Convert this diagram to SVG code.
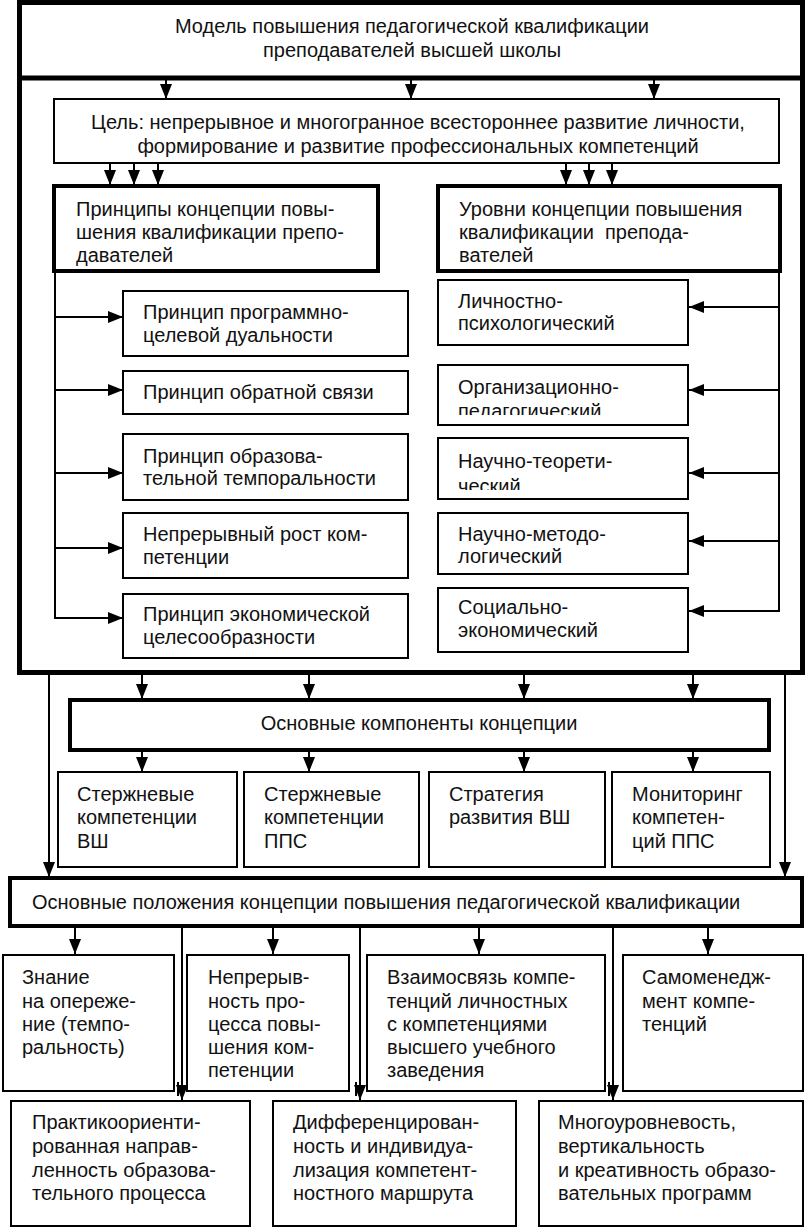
<svg xmlns="http://www.w3.org/2000/svg" width="809" height="1228" viewBox="0 0 809 1228">
<style>
.bx{fill:#fff;stroke:#000;stroke-width:2}
.bk{fill:#fff;stroke:#000;stroke-width:4}
.ln{fill:none;stroke:#000;stroke-width:2}
.ar{fill:none;stroke:#000;stroke-width:2;marker-end:url(#ah)}
text{font-family:"Liberation Sans",Arial,sans-serif;font-size:20px;fill:#111}
.c{text-anchor:middle}
</style>
<defs>
<marker id="ah" markerUnits="userSpaceOnUse" markerWidth="15" markerHeight="12" refX="15" refY="6" orient="auto">
<path d="M0,0 L15,6 L0,12 z" fill="#000"/>
</marker>
<clipPath id="cl1"><rect x="438" y="365" width="250" height="50"/></clipPath>
<clipPath id="cl2"><rect x="438" y="438" width="250" height="52"/></clipPath>
</defs>
<rect x="0" y="0" width="809" height="1228" fill="#fff"/>

<g id="frame">
<rect x="19.5" y="2.5" width="783" height="670" fill="none" stroke="#000" stroke-width="5"/>
<line x1="19" y1="78" x2="803" y2="78" stroke="#000" stroke-width="5"/>
</g>

<g id="connectors">
<line class="ar" x1="166" y1="80" x2="166" y2="99"/>
<line class="ar" x1="411" y1="80" x2="411" y2="99"/>
<line class="ar" x1="654" y1="80" x2="654" y2="99"/>
<line class="ar" x1="110" y1="163" x2="110" y2="185"/>
<line class="ar" x1="134" y1="163" x2="134" y2="185"/>
<line class="ar" x1="158" y1="163" x2="158" y2="185"/>
<line class="ar" x1="566" y1="163" x2="566" y2="185"/>
<line class="ar" x1="589" y1="163" x2="589" y2="185"/>
<line class="ar" x1="612" y1="163" x2="612" y2="185"/>
<line class="ln" x1="55" y1="271" x2="55" y2="619"/>
<line class="ar" x1="55" y1="317" x2="123" y2="317"/>
<line class="ar" x1="55" y1="390" x2="123" y2="390"/>
<line class="ar" x1="55" y1="473" x2="123" y2="473"/>
<line class="ar" x1="55" y1="548" x2="123" y2="548"/>
<line class="ar" x1="54" y1="618" x2="123" y2="618"/>
<line class="ln" x1="779" y1="271" x2="779" y2="612"/>
<line class="ar" x1="779" y1="307" x2="689" y2="307"/>
<line class="ar" x1="779" y1="390" x2="689" y2="390"/>
<line class="ar" x1="779" y1="473" x2="689" y2="473"/>
<line class="ar" x1="779" y1="541" x2="689" y2="541"/>
<line class="ar" x1="780" y1="611" x2="689" y2="611"/>
<line class="ar" x1="142" y1="675" x2="142" y2="699"/>
<line class="ar" x1="309" y1="675" x2="309" y2="699"/>
<line class="ar" x1="524" y1="675" x2="524" y2="699"/>
<line class="ar" x1="693" y1="675" x2="693" y2="699"/>
<line class="ar" x1="142" y1="751" x2="142" y2="772"/>
<line class="ar" x1="309" y1="751" x2="309" y2="772"/>
<line class="ar" x1="524" y1="751" x2="524" y2="772"/>
<line class="ar" x1="693" y1="751" x2="693" y2="772"/>
<line class="ar" x1="49" y1="675" x2="49" y2="877"/>
<line class="ar" x1="785" y1="675" x2="785" y2="877"/>
<line class="ar" x1="75" y1="928" x2="75" y2="954"/>
<line class="ar" x1="273" y1="928" x2="273" y2="954"/>
<line class="ar" x1="479" y1="928" x2="479" y2="954"/>
<line class="ar" x1="708" y1="928" x2="708" y2="954"/>
<line class="ar" x1="182" y1="928" x2="182" y2="1100"/>
<line class="ar" x1="360" y1="928" x2="360" y2="1100"/>
<line class="ar" x1="613" y1="928" x2="613" y2="1100"/>
<line class="ln" x1="178" y1="1082" x2="178" y2="1096"/>
<line class="ln" x1="356" y1="1082" x2="356" y2="1096"/>
<line class="ln" x1="609" y1="1082" x2="609" y2="1096"/>
</g>

<g id="title">
<text class="c" x="412" y="33">Модель повышения педагогической квалификации</text>
<text class="c" x="412" y="57">преподавателей высшей школы</text>
</g>

<g id="goal">
<rect class="bx" x="54" y="99" width="725" height="64"/>
<text class="c" x="418" y="129">Цель: непрерывное и многогранное всестороннее развитие личности,</text>
<text class="c" x="418" y="153">формирование и развитие профессиональных компетенций</text>
</g>

<g id="principles">
<rect class="bk" x="54" y="186" width="324" height="85"/>
<text x="76" y="216">Принципы концепции повы-</text>
<text x="76" y="239">шения квалификации препо-</text>
<text x="76" y="262">давателей</text>
</g>

<g id="levels">
<rect class="bk" x="438" y="186" width="342" height="85"/>
<text x="459" y="216">Уровни концепции повышения</text>
<text x="459" y="239" xml:space="preserve">квалификации  препода-</text>
<text x="459" y="262">вателей</text>
</g>

<g id="p1"><rect class="bx" x="123" y="291" width="285" height="65"/>
<text x="143" y="319">Принцип программно-</text><text x="143" y="342">целевой дуальности</text></g>
<g id="p2"><rect class="bx" x="123" y="371" width="285" height="43"/>
<text x="143" y="399">Принцип обратной связи</text></g>
<g id="p3"><rect class="bx" x="123" y="434" width="285" height="66"/>
<text x="143" y="463">Принцип образова-</text><text x="143" y="485">тельной темпоральности</text></g>
<g id="p4"><rect class="bx" x="123" y="513" width="285" height="65"/>
<text x="143" y="541">Непрерывный рост ком-</text><text x="143" y="564">петенции</text></g>
<g id="p5"><rect class="bx" x="123" y="594" width="285" height="64"/>
<text x="143" y="621">Принцип экономической</text><text x="143" y="644">целесообразности</text></g>

<g id="l1"><rect class="bx" x="438" y="280" width="250" height="65"/>
<text x="458" y="308">Личностно-</text><text x="458" y="330">психологический</text></g>
<g id="l2"><rect class="bx" x="438" y="365" width="250" height="60"/>
<text x="458" y="394">Организационно-</text><text x="458" y="418" clip-path="url(#cl1)">педагогический</text></g>
<g id="l3"><rect class="bx" x="438" y="438" width="250" height="61"/>
<text x="458" y="468">Научно-теорети-</text><text x="458" y="493" clip-path="url(#cl2)">ческий</text></g>
<g id="l4"><rect class="bx" x="438" y="513" width="250" height="61"/>
<text x="458" y="541">Научно-методо-</text><text x="458" y="563">логический</text></g>
<g id="l5"><rect class="bx" x="438" y="588" width="250" height="64"/>
<text x="458" y="614">Социально-</text><text x="458" y="637">экономический</text></g>

<g id="components">
<rect class="bk" x="70" y="700" width="699" height="50"/>
<text class="c" x="419" y="730">Основные компоненты концепции</text>
</g>
<g id="c1"><rect class="bx" x="58" y="772" width="179" height="95"/>
<text x="77" y="801">Стержневые</text><text x="77" y="824">компетенции</text><text x="77" y="848">ВШ</text></g>
<g id="c2"><rect class="bx" x="244" y="772" width="175" height="95"/>
<text x="264" y="801">Стержневые</text><text x="264" y="824">компетенции</text><text x="264" y="848">ППС</text></g>
<g id="c3"><rect class="bx" x="429" y="772" width="176" height="95"/>
<text x="449" y="801">Стратегия</text><text x="449" y="824">развития ВШ</text></g>
<g id="c4"><rect class="bx" x="612" y="772" width="158" height="95"/>
<text x="632" y="801">Мониторинг</text><text x="632" y="824">компетен-</text><text x="632" y="848">ций ППС</text></g>

<g id="positions">
<rect class="bk" x="10" y="878" width="792" height="48"/>
<text x="32" y="909">Основные положения концепции повышения педагогической квалификации</text>
</g>

<g id="r1"><rect class="bx" x="3" y="955" width="171" height="136"/>
<text x="22" y="984">Знание</text><text x="22" y="1008">на опереже-</text><text x="22" y="1031">ние (темпо-</text><text x="22" y="1054">ральность)</text></g>
<g id="r2"><rect class="bx" x="187" y="955" width="162" height="136"/>
<text x="208" y="984">Непрерыв-</text><text x="208" y="1008">ность про-</text><text x="208" y="1031">цесса повы-</text><text x="208" y="1054">шения ком-</text><text x="208" y="1077">петенции</text></g>
<g id="r3"><rect class="bx" x="367" y="955" width="238" height="136"/>
<text x="387" y="984">Взаимосвязь компе-</text><text x="387" y="1008">тенций личностных</text><text x="387" y="1031">с компетенциями</text><text x="387" y="1054">высшего учебного</text><text x="387" y="1077">заведения</text></g>
<g id="r4"><rect class="bx" x="623" y="955" width="180" height="136"/>
<text x="642" y="984">Самоменедж-</text><text x="642" y="1008">мент компе-</text><text x="642" y="1031">тенций</text></g>

<g id="b1"><rect class="bx" x="11" y="1101" width="239" height="125"/>
<text x="32" y="1129">Практикоориенти-</text><text x="32" y="1153">рованная направ-</text><text x="32" y="1177">ленность образова-</text><text x="32" y="1200">тельного процесса</text></g>
<g id="b2"><rect class="bx" x="273" y="1101" width="243" height="125"/>
<text x="293" y="1129">Дифференцирован-</text><text x="293" y="1153">ность и индивидуа-</text><text x="293" y="1177">лизация компетент-</text><text x="293" y="1200">ностного маршрута</text></g>
<g id="b3"><rect class="bx" x="539" y="1101" width="264" height="125"/>
<text x="558" y="1129">Многоуровневость,</text><text x="558" y="1153">вертикальность</text><text x="558" y="1177">и креативность образо-</text><text x="558" y="1200">вательных программ</text></g>
</svg>
